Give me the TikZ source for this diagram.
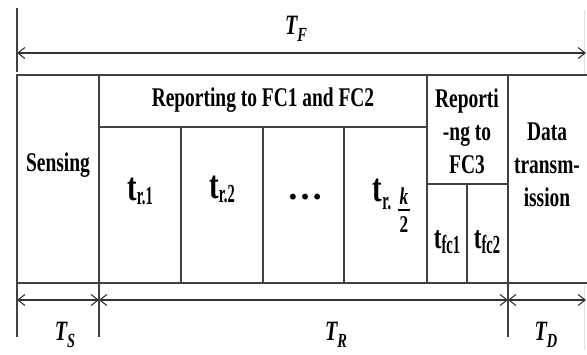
\documentclass[tikz,border=0pt]{standalone}
\usepackage{fontspec}
\setmainfont{Liberation Serif}[FakeStretch=0.72]
\newfontfamily\narrowfont{Liberation Serif}[FakeStretch=0.56]
\newfontfamily\dotfont{Liberation Serif}
\usetikzlibrary{arrows.meta}
\begin{document}
\begin{tikzpicture}[x=1pt,y=-1pt,
  ln/.style={line width=1.3pt, draw=black!75},
  faint/.style={line width=1pt, draw=black!12},
  dim/.style={line width=1.1pt, draw=black!80,
    {Straight Barb[length=7pt,width=11pt]}-{Straight Barb[length=7pt,width=11pt]}},
  lbl/.style={font=\bfseries\fontsize{27}{33}\selectfont, align=center, inner sep=0pt},
  big/.style={font=\bfseries\fontsize{40}{40}\selectfont, inner sep=0pt},
  sym/.style={font=\bfseries\itshape\fontsize{28}{28}\selectfont, inner sep=0pt}
]
\useasboundingbox (0,0) rectangle (587,354);
% top dimension
\coordinate (fl) at (17,53);
\coordinate (fr) at (586,53);
\draw[ln] (17,8) -- (17,72);
\draw[faint] (584,10) -- (584,74);
\draw[dim] (fl) -- (fr);
\node[sym] (TF) at (296,29) {T\raisebox{-7pt}{\fontsize{20}{20}\selectfont F}};
% frame
\draw[ln] (587,75) -- (17,75) -- (17,337);
\draw[ln] (17,283) -- (587,283);
\draw[ln] (99,75) -- (99,337);
\draw[ln] (427,75) -- (427,283);
\draw[ln] (508,75) -- (508,337);
\draw[ln] (99,127) -- (427,127);
\draw[ln] (181,127) -- (181,283);
\draw[ln] (263,127) -- (263,283);
\draw[ln] (344,127) -- (344,283);
\draw[ln] (427,184) -- (508,184);
\draw[ln] (467,184) -- (467,283);
\draw[faint] (584,285) -- (584,350);
% bottom dimensions
\coordinate (s0) at (17,300);
\coordinate (s1) at (99,300);
\coordinate (s2) at (508,300);
\coordinate (s3) at (586,300);
\draw[dim] (s0) -- (s1);
\draw[dim] (s1) -- (s2);
\draw[dim] (s2) -- (s3);
\node[sym] (TS) at (65,335) {T\raisebox{-7pt}{\fontsize{20}{20}\selectfont S}};
\node[sym] (TR) at (336,335) {T\raisebox{-7pt}{\fontsize{20}{20}\selectfont R}};
\node[sym] (TD) at (546,335) {T\raisebox{-7pt}{\fontsize{20}{20}\selectfont D}};
% labels
\node[lbl] (rep) at (263,100) {Reporting to FC1 and FC2};
\node[lbl] (sens) at (58,165) {Sensing};
\node[lbl] (rep3) at (467,131) {Reporti\\-ng to\\FC3};
\node[lbl] (data) at (547,165) {Data\\transm-\\ission};
\node[big] (tr1) at (140,191) {t\raisebox{-4pt}{\narrowfont\fontsize{26}{26}\selectfont r.1}};
\node[big] (tr2) at (222,189) {t\raisebox{-4pt}{\narrowfont\fontsize{26}{26}\selectfont r.2}};
\node[font=\dotfont\bfseries\fontsize{36}{36}\selectfont, inner sep=0pt] (dots) at (305,197) {…};
\node[big] (trk) at (382,194) {t\raisebox{-8pt}{\narrowfont\fontsize{26}{26}\selectfont r.}};
\node[font=\bfseries\fontsize{24}{24}\selectfont, inner sep=0pt] (kk) at (404,196) {\textit{k}};
\node[font=\bfseries\fontsize{24}{24}\selectfont, inner sep=0pt] (two) at (404,225) {2};
\draw[line width=1.3pt] (398,210) -- (410,210);
\node[font=\bfseries\fontsize{32}{32}\selectfont, inner sep=0pt] (tf1) at (447,242) {t\raisebox{-5pt}{\narrowfont\fontsize{26}{26}\selectfont fc1}};
\node[font=\bfseries\fontsize{32}{32}\selectfont, inner sep=0pt] (tf2) at (487,242) {t\raisebox{-5pt}{\narrowfont\fontsize{26}{26}\selectfont fc2}};
\end{tikzpicture}
\end{document}
